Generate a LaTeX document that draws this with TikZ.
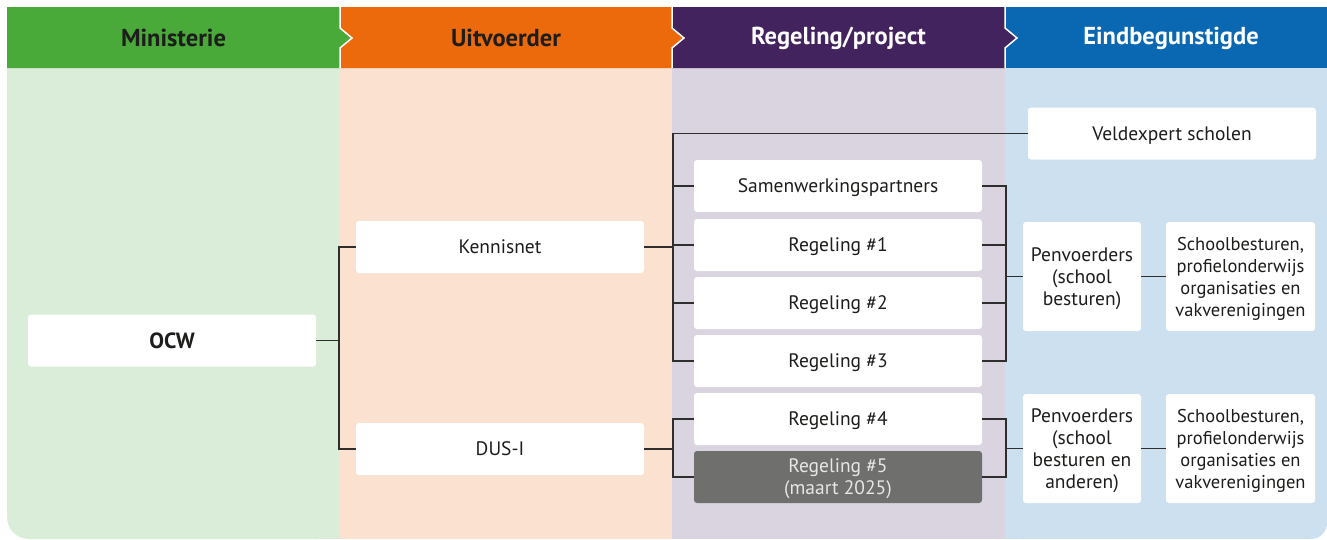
\documentclass[tikz,border=0pt]{standalone}
\usepackage{fontspec}
\setmainfont{PT Sans}
\definecolor{gH}{HTML}{49A939}
\definecolor{oH}{HTML}{EC6A0C}
\definecolor{pH}{HTML}{42235E}
\definecolor{bH}{HTML}{0A68B2}
\definecolor{gB}{HTML}{DAEDD8}
\definecolor{oB}{HTML}{FBE1D0}
\definecolor{pB}{HTML}{DAD4E1}
\definecolor{bB}{HTML}{CDE0EF}
\definecolor{lineC}{HTML}{2E2E2E}
\definecolor{txt}{HTML}{1D1D1B}
\definecolor{darkbox}{HTML}{6F6F6E}
\definecolor{lighttxt}{HTML}{E6E6E6}
\begin{document}
\begin{tikzpicture}[x=1pt,y=-1pt,
  box/.style={fill=white, rounded corners=3pt, inner sep=0pt, align=center,
    font=\fontsize{19.5}{22}\selectfont, text=txt, text depth=0pt},
  wide/.style={box, minimum width=288, minimum height=52},
  pen/.style={box, minimum width=118, minimum height=109},
  sch/.style={box, minimum width=149, minimum height=109, font=\fontsize{18.5}{22}\selectfont},
  conn/.style={draw=lineC, line width=1.4pt},
  head/.style={font=\fontsize{24.5}{28}\selectfont\bfseries},
  sep/.style={draw=white, line width=1.5pt}]
\useasboundingbox (0,0) rectangle (1327,539);
% body backgrounds
\fill[gB, rounded corners=22] (7,68) rectangle (340,539);
\fill[gB] (7,68) rectangle (340,400);
\fill[gB] (200,68) rectangle (340,539);
\fill[oB] (340,68) rectangle (672,539);
\fill[pB] (672,68) rectangle (1005,539);
\fill[bB, rounded corners=16] (1005,68) rectangle (1327,539);
\fill[bB] (1005,68) rectangle (1327,400);
\fill[bB] (1005,68) rectangle (1200,539);
% headers
\fill[bH] (1005,7) rectangle (1327,68);
\fill[pH] (672,7) -- (1005,7) -- (1005,28) -- (1017,38) -- (1005,48) -- (1005,68) -- (672,68) -- cycle;
\fill[oH] (340,7) -- (672,7) -- (672,28) -- (684,38) -- (672,48) -- (672,68) -- (340,68) -- cycle;
\fill[gH] (7,7) -- (340,7) -- (340,28) -- (352,38) -- (340,48) -- (340,68) -- (7,68) -- cycle;
\draw[sep] (340,7) -- (340,28) -- (352,38) -- (340,48) -- (340,68);
\draw[sep] (672,7) -- (672,28) -- (684,38) -- (672,48) -- (672,68);
\draw[sep] (1005,7) -- (1005,28) -- (1017,38) -- (1005,48) -- (1005,68);
\node[head, text=txt] (h1) at (173.5,38) {Ministerie};
\node[head, text=txt] (h2) at (506,38) {Uitvoerder};
\node[head, text=white] (h3) at (838.5,38) {Regeling/project};
\node[head, text=white] (h4) at (1171,38) {Eindbegunstigde};
% nodes
\node[wide, font=\fontsize{22}{26}\selectfont\bfseries] (ocw) at (172,340.5) {OCW};
\node[wide] (ken) at (500,247) {Kennisnet};
\node[wide] (dus) at (500,449) {DUS-I};
\node[wide] (sam) at (838,186) {Samenwerkingspartners};
\node[wide] (r1) at (838,245) {Regeling \#1};
\node[wide] (r2) at (838,303) {Regeling \#2};
\node[wide] (r3) at (838,361) {Regeling \#3};
\node[wide] (r4) at (838,419) {Regeling \#4};
\node[wide, fill=darkbox, text=lighttxt] (r5) at (838,477) {Regeling \#5\\(maart 2025)};
\node[wide] (veld) at (1172,133.5) {Veldexpert scholen};
\node[pen] (pen1) at (1082,276.5) {Penvoerders\\(school\\besturen)};
\node[sch] (sch1) at (1240.5,276.5) {Schoolbesturen,\\profielonderwijs\\organisaties en\\vakverenigingen};
\node[pen] (pen2) at (1082,448.5) {Penvoerders\\(school\\besturen en\\anderen)};
\node[sch] (sch2) at (1240.5,448.5) {Schoolbesturen,\\profielonderwijs\\organisaties en\\vakverenigingen};
% bracket x positions
\coordinate (x1) at (339,0);
\coordinate (x2) at (673,0);
\coordinate (x3) at (1006,0);
% connectors
\draw[conn] (ocw.east) -- (ocw.east -| x1);
\draw[conn] (ken.west) -- (ken.west -| x1) -- (dus.west -| x1) -- (dus.west);
\draw[conn] (ken.east) -- (ken.east -| x2);
\draw[conn] (veld.west) -- (veld.west -| x2) -- (r3.west -| x2) -- (r3.west);
\draw[conn] (sam.west) -- (sam.west -| x2);
\draw[conn] (r1.west) -- (r1.west -| x2);
\draw[conn] (r2.west) -- (r2.west -| x2);
\draw[conn] (sam.east) -- (sam.east -| x3) -- (r3.east -| x3) -- (r3.east);
\draw[conn] (r1.east) -- (r1.east -| x3);
\draw[conn] (r2.east) -- (r2.east -| x3);
\draw[conn] (pen1.west) -- (pen1.west -| x3);
\draw[conn] (dus.east) -- (dus.east -| x2);
\draw[conn] (r4.west) -- (r4.west -| x2) -- (r5.west -| x2) -- (r5.west);
\draw[conn] (r4.east) -- (r4.east -| x3) -- (r5.east -| x3) -- (r5.east);
\draw[conn] (pen2.west) -- (pen2.west -| x3);
\draw[conn] (pen1.east) -- (sch1.west);
\draw[conn] (pen2.east) -- (sch2.west);
\end{tikzpicture}
\end{document}
